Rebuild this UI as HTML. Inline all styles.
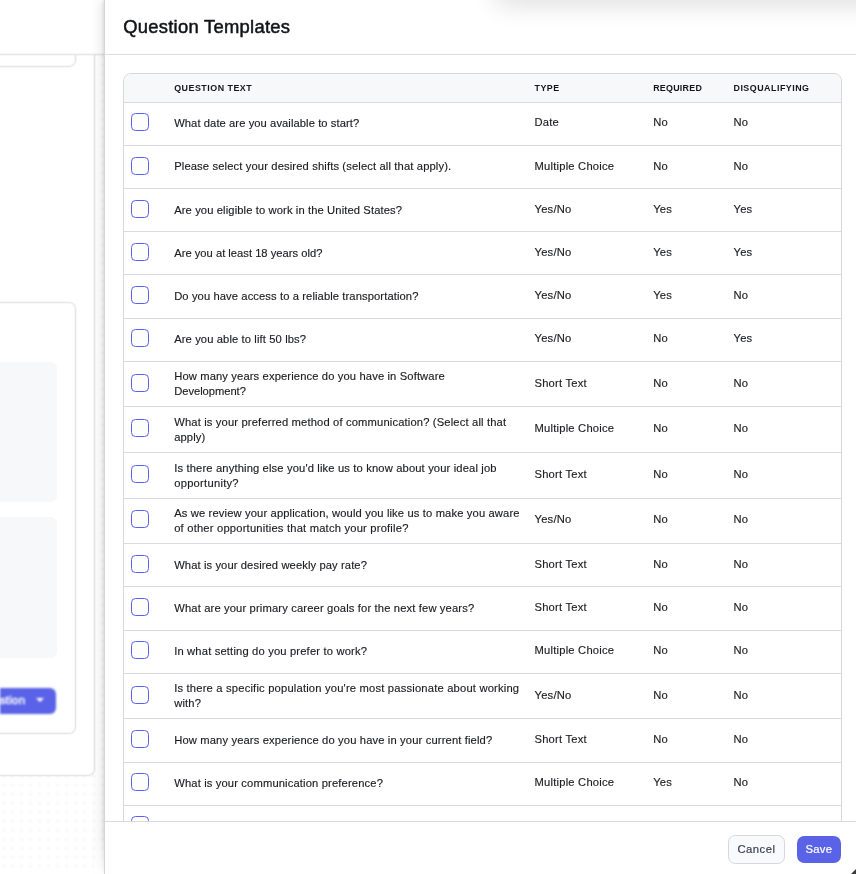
<!DOCTYPE html>
<html lang="en">
<head>
<meta charset="utf-8">
<title>Question Templates</title>
<style>
*{box-sizing:border-box;margin:0;padding:0}
html,body{width:856px;height:874px;overflow:hidden;background:#fff}
body{font-family:"Liberation Sans",Arial,sans-serif;color:#1f2328;position:relative}
/* ---------- blurred page behind ---------- */
#bg{position:absolute;left:0;top:0;width:856px;height:874px;overflow:hidden}
.blur{position:absolute;left:0;top:0;width:856px;height:874px;overflow:hidden;filter:blur(.8px)}
#dots{position:absolute;left:-20px;top:54px;width:200px;height:840px;background-color:#fff;
 background-image:radial-gradient(circle,#e8eaed 0.8px,rgba(255,255,255,0) 1.2px);background-size:9px 9px;background-position:1.1px -2.3px}
#topbar{position:absolute;left:-20px;top:-10px;width:900px;height:64.6px;background:#fff;border-bottom:1px solid #e6e7eb;box-shadow:0 1px 0 rgba(190,194,204,.13),inset 0 -1px 0 rgba(190,194,204,.13)}
#panel{position:absolute;left:-40px;top:54px;width:135px;height:721.5px;background:#fff;border:1px solid #e5e6ea;box-shadow:0 0 0 1px rgba(190,194,204,.13),inset 0 0 0 1px rgba(190,194,204,.13);border-radius:0 0 7px 7px;border-top:none}
.card{position:absolute;left:-40px;width:115.5px;background:#fff;border:1px solid #e6e7eb;box-shadow:0 0 0 1px rgba(190,194,204,.13),inset 0 0 0 1px rgba(190,194,204,.13);border-radius:7px}
#card1{top:-40px;height:106.5px}
#card2{top:302px;height:431.5px}
.gbox{position:absolute;left:-40px;width:96.5px;background:#f7f8fa;border-radius:6px}
#g1{top:362px;height:140px}
#g2{top:517px;height:141px}
#addbtn{position:absolute;left:-60px;top:687.6px;width:116.3px;height:26.4px;background:#5a63e7;border-radius:6px;color:#fff;font-weight:400;-webkit-text-stroke:.45px #fff;font-size:11.3px;line-height:25px;text-align:right;padding-right:31px;letter-spacing:.3px}
#addbtn i{position:absolute;right:12.8px;top:10.6px;width:0;height:0;border-left:4px solid transparent;border-right:4px solid transparent;border-top:4.5px solid #fff}
/* ---------- drawer ---------- */
#drawer{position:absolute;left:103.7px;top:0;width:752.3px;height:874px;background:#fff;border-left:1px solid #d3d5dc;box-shadow:-1px 0 3px rgba(0,0,0,.10),-5px 0 9px rgba(0,0,0,.07)}
#toastshadow{position:absolute;left:390px;top:-62px;width:500px;height:60px;border-radius:10px;background:#fff;box-shadow:0 8px 24px rgba(0,0,0,.12)}
#hd{position:absolute;left:0;top:0;width:100%;height:54.5px;border-bottom:1px solid #dcdee3;overflow:hidden}
#hd h2{position:absolute;left:18.5px;top:15.5px;font-size:18.4px;line-height:22px;font-weight:400;color:#111316;letter-spacing:.27px;white-space:nowrap;-webkit-text-stroke:.5px #111316}
#body{position:absolute;left:0;top:55px;width:100%;height:766.5px;overflow:hidden}
#ft{position:absolute;left:0;top:821px;width:100%;height:53px;border-top:1px solid #d8dae0;background:#fff}
.btn{position:absolute;top:13px;height:28.8px;border-radius:7.2px;font-size:11.3px;line-height:27px;text-align:center;white-space:nowrap;letter-spacing:.45px}
#cancel{left:623.5px;width:56.5px;background:#f9fafb;border:1px solid #d4d7dd;color:#3b4250;-webkit-text-stroke:.2px #3b4250}
#save{left:692px;width:44.5px;top:13.6px;letter-spacing:.33px;height:27.6px;line-height:27.6px;background:#5a63e7;color:#fff;-webkit-text-stroke:.2px #fff}
#shfade{position:absolute;left:-11px;top:838px;width:10px;height:36px;background:linear-gradient(to bottom,rgba(255,255,255,0),rgba(255,255,255,.75))}
#corner{position:absolute;right:0;bottom:0;width:0;height:0;border-left:5px solid transparent;border-bottom:5px solid #3a3a3a}
/* table */
#tbl{position:absolute;left:18.5px;top:18px;width:718.5px;border:1px solid #d5d7de;border-radius:8px 8px 0 0;overflow:hidden;background:#fff}
#th{height:29px;background:#f7f8fa;border-bottom:1px solid #d9dbe1;position:relative;font-size:8.9px;font-weight:700;letter-spacing:.5px;color:#14161a;line-height:28px;white-space:nowrap}
#th span{position:absolute;top:0px}
.row{position:relative;height:43px;border-bottom:1px solid #d9dbe1;font-size:11.2px;color:#1b1d21;-webkit-text-stroke:.15px #1b1d21;white-space:nowrap}
.row>div{position:absolute;top:var(--s,0px);height:100%;display:flex;align-items:center}
.c0{left:7px}
.c1{left:50px;top:var(--q,0px) !important}
.c2{left:410.3px}
.c3{left:529px}
.c4{left:609.3px}
.c2,.c3,.c4{padding-bottom:2.2px;letter-spacing:.22px}
.cb{display:block;width:18px;height:18px;border:1.3px solid #5a60f0;border-radius:4.5px;background:#fdfdfc;margin-top:-3px;margin-left:-0.4px}
.q{line-height:15.3px;letter-spacing:.2px;padding-top:0.3px}
.ln{display:inline-block}
</style>
</head>
<body>
<div id="bg">
  <div class="blur"><div id="dots"></div></div>
  <div id="panel"></div>
  <div class="card" id="card1"></div>
  <div id="topbar"></div>
  <div class="card" id="card2"></div>
  <div class="gbox" id="g1"></div>
  <div class="gbox" id="g2"></div>
  <div class="blur"><div id="addbtn">Add Question<i></i></div></div>
</div>
<div id="drawer">
  <div id="hd"><div id="toastshadow"></div><h2>Question Templates</h2></div>
  <div id="body">
    <div id="tbl">
      <div id="th"><span style="left:50px">QUESTION TEXT</span><span style="left:410.3px">TYPE</span><span style="left:529px;letter-spacing:.26px">REQUIRED</span><span style="left:609.3px">DISQUALIFYING</span></div>
<div class="row" style="height:43px;--s:-1px;--q:-1px"><div class="c0"><span class="cb"></span></div><div class="c1"><div class="q"><span class="ln" style="letter-spacing:0.077px">What date are you available to start?</span></div></div><div class="c2">Date</div><div class="c3">No</div><div class="c4">No</div></div>
<div class="row" style="height:43px;--s:0px;--q:-1px"><div class="c0"><span class="cb"></span></div><div class="c1"><div class="q"><span class="ln" style="letter-spacing:0.136px">Please select your desired shifts (select all that apply).</span></div></div><div class="c2">Multiple Choice</div><div class="c3">No</div><div class="c4">No</div></div>
<div class="row" style="height:43px;--s:0px;--q:0px"><div class="c0"><span class="cb"></span></div><div class="c1"><div class="q"><span class="ln" style="letter-spacing:0.115px">Are you eligible to work in the United States?</span></div></div><div class="c2">Yes/No</div><div class="c3">Yes</div><div class="c4">Yes</div></div>
<div class="row" style="height:43px;--s:0px;--q:0px"><div class="c0"><span class="cb"></span></div><div class="c1"><div class="q"><span class="ln" style="letter-spacing:0.006px">Are you at least 18 years old?</span></div></div><div class="c2">Yes/No</div><div class="c3">Yes</div><div class="c4">Yes</div></div>
<div class="row" style="height:44px;--s:0px;--q:0px"><div class="c0"><span class="cb"></span></div><div class="c1"><div class="q"><span class="ln" style="letter-spacing:0.101px">Do you have access to a reliable transportation?</span></div></div><div class="c2">Yes/No</div><div class="c3">Yes</div><div class="c4">No</div></div>
<div class="row" style="height:43px;--s:-1px;--q:-1px"><div class="c0"><span class="cb"></span></div><div class="c1"><div class="q"><span class="ln" style="letter-spacing:0.114px">Are you able to lift 50 lbs?</span></div></div><div class="c2">Yes/No</div><div class="c3">No</div><div class="c4">Yes</div></div>
<div class="row two" style="height:45px;--s:0px;--q:0px"><div class="c0"><span class="cb"></span></div><div class="c1"><div class="q"><span class="ln" style="letter-spacing:0.131px">How many years experience do you have in Software</span><br><span class="ln" style="letter-spacing:-0.040px">Development?</span></div></div><div class="c2">Short Text</div><div class="c3">No</div><div class="c4">No</div></div>
<div class="row two" style="height:46px;--s:0px;--q:0px"><div class="c0"><span class="cb"></span></div><div class="c1"><div class="q"><span class="ln" style="position:relative;top:1px;letter-spacing:0.155px">What is your preferred method of communication? (Select all that</span><br><span class="ln" style="letter-spacing:0.103px">apply)</span></div></div><div class="c2">Multiple Choice</div><div class="c3">No</div><div class="c4">No</div></div>
<div class="row two" style="height:46px;--s:0px;--q:0px"><div class="c0"><span class="cb"></span></div><div class="c1"><div class="q"><span class="ln" style="position:relative;top:1px;letter-spacing:0.145px">Is there anything else you'd like us to know about your ideal job</span><br><span class="ln" style="letter-spacing:0.257px">opportunity?</span></div></div><div class="c2">Short Text</div><div class="c3">No</div><div class="c4">No</div></div>
<div class="row two" style="height:45px;--s:-1px;--q:0px"><div class="c0"><span class="cb"></span></div><div class="c1"><div class="q"><span class="ln" style="letter-spacing:0.137px">As we review your application, would you like us to make you aware</span><br><span class="ln" style="letter-spacing:0.197px">of other opportunities that match your profile?</span></div></div><div class="c2">Yes/No</div><div class="c3">No</div><div class="c4">No</div></div>
<div class="row" style="height:43px;--s:0px;--q:0px"><div class="c0"><span class="cb"></span></div><div class="c1"><div class="q"><span class="ln" style="letter-spacing:0.102px">What is your desired weekly pay rate?</span></div></div><div class="c2">Short Text</div><div class="c3">No</div><div class="c4">No</div></div>
<div class="row" style="height:44px;--s:0px;--q:0px"><div class="c0"><span class="cb"></span></div><div class="c1"><div class="q"><span class="ln" style="letter-spacing:0.147px">What are your primary career goals for the next few years?</span></div></div><div class="c2">Short Text</div><div class="c3">No</div><div class="c4">No</div></div>
<div class="row" style="height:43px;--s:-1px;--q:-1px"><div class="c0"><span class="cb"></span></div><div class="c1"><div class="q"><span class="ln" style="letter-spacing:0.166px">In what setting do you prefer to work?</span></div></div><div class="c2">Multiple Choice</div><div class="c3">No</div><div class="c4">No</div></div>
<div class="row two" style="height:45px;--s:0px;--q:0px"><div class="c0"><span class="cb"></span></div><div class="c1"><div class="q"><span class="ln" style="letter-spacing:0.190px">Is there a specific population you're most passionate about working</span><br><span class="ln" style="letter-spacing:0.169px">with?</span></div></div><div class="c2">Yes/No</div><div class="c3">No</div><div class="c4">No</div></div>
<div class="row" style="height:44px;--s:0px;--q:0px"><div class="c0"><span class="cb"></span></div><div class="c1"><div class="q"><span class="ln" style="letter-spacing:0.141px">How many years experience do you have in your current field?</span></div></div><div class="c2">Short Text</div><div class="c3">No</div><div class="c4">No</div></div>
<div class="row" style="height:43px;--s:-1px;--q:-1px"><div class="c0"><span class="cb"></span></div><div class="c1"><div class="q"><span class="ln" style="letter-spacing:0.145px">What is your communication preference?</span></div></div><div class="c2">Multiple Choice</div><div class="c3">Yes</div><div class="c4">No</div></div>
<div class="row" style="height:44px;--s:-1px;--q:0px"><div class="c0"><span class="cb"></span></div><div class="c1"><div class="q"><span class="ln"></span></div></div><div class="c2"></div><div class="c3"></div><div class="c4"></div></div>    </div>
  </div>
  <div id="ft"><div class="btn" id="cancel">Cancel</div><div class="btn" id="save">Save</div></div>
  <div id="shfade"></div>
  <div id="corner"></div>
</div>
</body>
</html>
